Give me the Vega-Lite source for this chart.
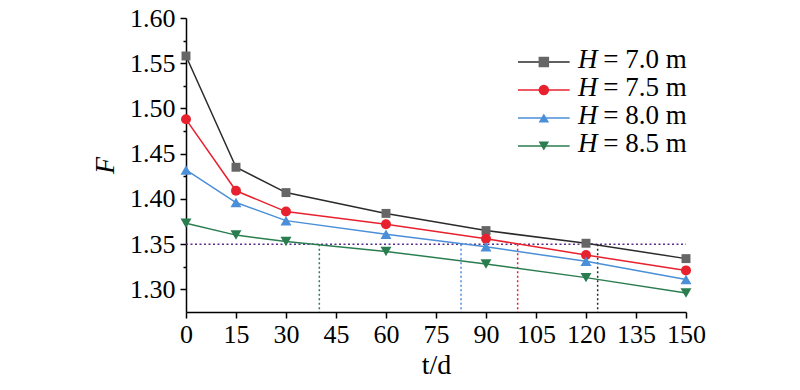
{
  "$schema": "https://vega.github.io/schema/vega-lite/v6.json",
  "width": 500,
  "height": 294,
  "autosize": "none",
  "padding": {"left": 186, "top": 18, "right": 114, "bottom": 78},
  "background": "white",
  "datasets": {
    "curves": [
      {"H": "H = 7.0 m", "t": 0, "F": 1.558},
      {"H": "H = 7.0 m", "t": 15, "F": 1.435},
      {"H": "H = 7.0 m", "t": 30, "F": 1.407},
      {"H": "H = 7.0 m", "t": 60, "F": 1.384},
      {"H": "H = 7.0 m", "t": 90, "F": 1.365},
      {"H": "H = 7.0 m", "t": 120, "F": 1.351},
      {"H": "H = 7.0 m", "t": 150, "F": 1.334},
      {"H": "H = 7.5 m", "t": 0, "F": 1.488},
      {"H": "H = 7.5 m", "t": 15, "F": 1.409},
      {"H": "H = 7.5 m", "t": 30, "F": 1.386},
      {"H": "H = 7.5 m", "t": 60, "F": 1.372},
      {"H": "H = 7.5 m", "t": 90, "F": 1.356},
      {"H": "H = 7.5 m", "t": 120, "F": 1.338},
      {"H": "H = 7.5 m", "t": 150, "F": 1.321},
      {"H": "H = 8.0 m", "t": 0, "F": 1.432},
      {"H": "H = 8.0 m", "t": 15, "F": 1.396},
      {"H": "H = 8.0 m", "t": 30, "F": 1.376},
      {"H": "H = 8.0 m", "t": 60, "F": 1.361},
      {"H": "H = 8.0 m", "t": 90, "F": 1.347},
      {"H": "H = 8.0 m", "t": 120, "F": 1.331},
      {"H": "H = 8.0 m", "t": 150, "F": 1.311},
      {"H": "H = 8.5 m", "t": 0, "F": 1.373},
      {"H": "H = 8.5 m", "t": 15, "F": 1.360},
      {"H": "H = 8.5 m", "t": 30, "F": 1.353},
      {"H": "H = 8.5 m", "t": 60, "F": 1.342},
      {"H": "H = 8.5 m", "t": 90, "F": 1.328},
      {"H": "H = 8.5 m", "t": 120, "F": 1.313},
      {"H": "H = 8.5 m", "t": 150, "F": 1.296}
    ],
    "crossings": [
      {"H": "H = 7.0 m", "t": 123.5, "F": 1.35, "F2": 1.275},
      {"H": "H = 7.5 m", "t": 99.5, "F": 1.35, "F2": 1.275},
      {"H": "H = 8.0 m", "t": 82.5, "F": 1.35, "F2": 1.275},
      {"H": "H = 8.5 m", "t": 40, "F": 1.35, "F2": 1.275}
    ],
    "limit": [
      {"t": 0, "t2": 150, "F": 1.35}
    ],
    "series": [
      {"H": "H = 7.0 m", "sym": "H", "rest": "= 7.0 m"},
      {"H": "H = 7.5 m", "sym": "H", "rest": "= 7.5 m"},
      {"H": "H = 8.0 m", "sym": "H", "rest": "= 8.0 m"},
      {"H": "H = 8.5 m", "sym": "H", "rest": "= 8.5 m"}
    ]
  },
  "config": {
    "view": {"stroke": null},
    "font": "Liberation Serif",
    "axis": {
      "domainColor": "black",
      "domainWidth": 1.5,
      "tickColor": "black",
      "tickWidth": 1.5,
      "labelColor": "black",
      "labelFont": "Liberation Serif",
      "labelFontSize": 26,
      "titleFont": "Liberation Serif",
      "titleFontSize": 28,
      "titleFontWeight": "normal",
      "titleColor": "black",
      "grid": false,
      "labelOverlap": false,
      "labelFlush": false
    }
  },
  "layer": [
    {
      "encoding": {
        "x": {
          "field": "t",
          "type": "quantitative",
          "scale": {"domain": [0, 150], "nice": false, "zero": false},
          "axis": {
            "title": "t/d",
            "values": [0, 7.5, 15, 22.5, 30, 37.5, 45, 52.5, 60, 67.5, 75, 82.5, 90, 97.5, 105, 112.5, 120, 127.5, 135, 142.5, 150],
            "labelExpr": "datum.value % 15 === 0 ? datum.label : ''",
            "tickSize": {"condition": {"test": "datum.value % 15 === 0", "value": 6}, "value": 3},
            "labelPadding": 3,
            "titlePadding": 4
          }
        },
        "y": {
          "field": "F",
          "type": "quantitative",
          "scale": {"domain": [1.275, 1.6], "nice": false, "zero": false},
          "axis": {
            "title": "F",
            "titleFontStyle": "italic",
            "values": [1.3, 1.325, 1.35, 1.375, 1.4, 1.425, 1.45, 1.475, 1.5, 1.525, 1.55, 1.575, 1.6],
            "labelExpr": "abs(datum.value * 20 - round(datum.value * 20)) < 0.01 ? format(datum.value, '.2f') : ''",
            "tickSize": {"condition": {"test": "abs(datum.value * 20 - round(datum.value * 20)) < 0.01", "value": 6}, "value": 3},
            "labelPadding": 5,
            "titlePadding": 10
          }
        }
      },
      "layer": [
        {
          "data": {"name": "limit"},
          "mark": {"type": "rule", "color": "#5b2c8c", "strokeWidth": 1.5, "strokeDash": [2, 2.5]},
          "encoding": {"x2": {"field": "t2"}}
        },
        {
          "data": {"name": "crossings"},
          "mark": {"type": "rule", "strokeWidth": 1.5, "strokeDash": [2, 2.5]},
          "encoding": {
            "y2": {"field": "F2"},
            "color": {
              "field": "H", "type": "nominal", "legend": null,
              "scale": {"domain": ["H = 7.0 m", "H = 7.5 m", "H = 8.0 m", "H = 8.5 m"], "range": ["#2b2b2b", "#e8212e", "#4a8fd8", "#2a7d4f"]}
            }
          }
        },
        {
          "data": {"name": "curves"},
          "mark": {"type": "line", "strokeWidth": 1.5},
          "encoding": {
            "color": {"field": "H", "type": "nominal", "legend": null}
          }
        },
        {
          "data": {"name": "curves"},
          "transform": [{"filter": "datum.H === 'H = 7.0 m'"}],
          "mark": {"type": "point", "shape": "square", "filled": true, "fill": "#666666", "opacity": 1, "size": 80}
        },
        {
          "data": {"name": "curves"},
          "transform": [{"filter": "datum.H === 'H = 7.5 m'"}],
          "mark": {"type": "point", "shape": "circle", "filled": true, "fill": "#e8212e", "opacity": 1, "size": 100}
        },
        {
          "data": {"name": "curves"},
          "transform": [{"filter": "datum.H === 'H = 8.0 m'"}],
          "mark": {"type": "point", "shape": "triangle-up", "filled": true, "fill": "#4a8fd8", "opacity": 1, "size": 120}
        },
        {
          "data": {"name": "curves"},
          "transform": [{"filter": "datum.H === 'H = 8.5 m'"}],
          "mark": {"type": "point", "shape": "triangle-down", "filled": true, "fill": "#2a7d4f", "opacity": 1, "size": 120}
        }
      ]
    },
    {
      "data": {"name": "series"},
      "encoding": {
        "y": {
          "field": "H", "type": "nominal", "axis": null,
          "scale": {"type": "point", "domain": ["H = 7.0 m", "H = 7.5 m", "H = 8.0 m", "H = 8.5 m"], "range": [44, 128], "padding": 0}
        }
      },
      "layer": [
        {
          "mark": {"type": "rule", "strokeWidth": 1.5},
          "encoding": {
            "x": {"datum": 99.6, "type": "quantitative"},
            "x2": {"datum": 115.1},
            "color": {"field": "H", "type": "nominal", "legend": null}
          }
        },
        {
          "mark": {"type": "point", "filled": true, "opacity": 1, "size": 110},
          "encoding": {
            "x": {"datum": 107.35, "type": "quantitative"},
            "shape": {
              "field": "H", "type": "nominal", "legend": null,
              "scale": {"domain": ["H = 7.0 m", "H = 7.5 m", "H = 8.0 m", "H = 8.5 m"], "range": ["square", "circle", "triangle-up", "triangle-down"]}
            },
            "fill": {
              "field": "H", "type": "nominal", "legend": null,
              "scale": {"domain": ["H = 7.0 m", "H = 7.5 m", "H = 8.0 m", "H = 8.5 m"], "range": ["#666666", "#e8212e", "#4a8fd8", "#2a7d4f"]}
            }
          }
        },
        {
          "mark": {"type": "text", "align": "left", "baseline": "middle", "dy": -2, "font": "Liberation Serif", "fontSize": 27, "fontStyle": "italic", "color": "black"},
          "encoding": {
            "x": {"datum": 117.6, "type": "quantitative"},
            "text": {"field": "sym"}
          }
        },
        {
          "mark": {"type": "text", "align": "left", "baseline": "middle", "dy": -2, "font": "Liberation Serif", "fontSize": 27, "color": "black"},
          "encoding": {
            "x": {"datum": 125.2, "type": "quantitative"},
            "text": {"field": "rest"}
          }
        }
      ]
    }
  ],
  "resolve": {"scale": {"y": "independent"}}
}
